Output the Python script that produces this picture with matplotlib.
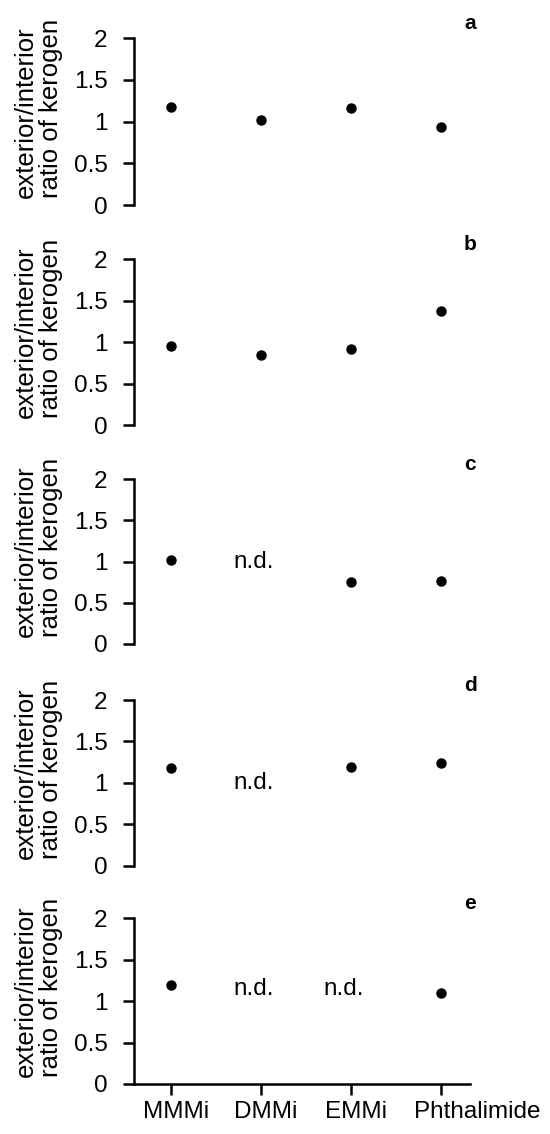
import numpy as np
import matplotlib
matplotlib.use('Agg')
import matplotlib.pyplot as plt
import matplotlib.transforms as mtransforms

plt.rcParams['font.family'] = ['Liberation Sans', 'DejaVu Sans']

compounds = ['MMMi', 'DMMi', 'EMMi', 'Phthalimide']
panel_letters = ['a', 'b', 'c', 'd', 'e']
nan = np.nan

# exterior/interior ratio per panel (nan = not detected)
ratio_a = [1.17, 1.02, 1.16, 0.94]
ratio_b = [0.95, 0.84, 0.92, 1.38]
ratio_c = [1.02, nan, 0.75, 0.77]
ratio_d = [1.18, nan, 1.19, 1.24]
ratio_e = [1.19, nan, nan, 1.10]
ratios = [ratio_a, ratio_b, ratio_c, ratio_d, ratio_e]

# height at which the "n.d." note is written in each panel
nd_height = [1.0, 1.0, 1.0, 1.0, 1.15]

yticks = [0, 0.5, 1, 1.5, 2]
ytick_labels = ['0', '0.5', '1', '1.5', '2']

W, H = 550, 1134
fig = plt.figure(figsize=(W / 100, H / 100), dpi=100)

# panel top / bottom in pixels
tops = [38.3, 259.3, 479.3, 700, 918.3]
bottoms = [205, 425, 644, 865.7, 1084]
left_px, right_px = 134, 470

x = np.arange(1, len(compounds) + 1)
fs = 17.5

for i, (vals, letter) in enumerate(zip(ratios, panel_letters)):
    ax = fig.add_axes([left_px / W, 1 - bottoms[i] / H,
                       (right_px - left_px) / W, (bottoms[i] - tops[i]) / H])
    ax.plot(x, vals, 'o', color='black', markersize=6.5, clip_on=False)
    for j, v in enumerate(vals):
        if np.isnan(v):
            ax.text(x[j] - 0.08, nd_height[i], 'n.d.', ha='center', va='center',
                    fontsize=fs)
    ax.set_xlim(1 - 37 / 90, 1 - 37 / 90 + (right_px - left_px) / 90)
    ax.set_ylim(0, 2)
    ax.set_yticks(yticks)
    ax.set_yticklabels(ytick_labels, fontsize=fs)
    ax.tick_params(axis='y', direction='out', length=8, width=1.8, pad=11)
    for s in ['top', 'right']:
        ax.spines[s].set_visible(False)
    ax.spines['left'].set_linewidth(1.8)
    ax.patch.set_alpha(0)

    if i == len(ratios) - 1:
        ax.spines['bottom'].set_linewidth(1.8)
        ax.set_xticks(x)
        ax.set_xticklabels(compounds, fontsize=fs)
        ax.tick_params(axis='x', direction='out', length=8, width=1.8, pad=4)
        shifts = [5, 5, 5, 36]
        for lab, sh in zip(ax.get_xticklabels(), shifts):
            lab.set_transform(lab.get_transform() +
                              mtransforms.ScaledTranslation(sh / 100, 0, fig.dpi_scale_trans))
    else:
        ax.spines['bottom'].set_visible(False)
        ax.set_xticks([])

    ax.text(1.0, 1.03, letter, transform=ax.transAxes, ha='center', va='bottom',
            fontsize=15, fontweight='bold')
    ax.text(-0.285, 0.04, 'exterior/interior\nratio of kerogen', transform=ax.transAxes,
            rotation=90, ha='center', va='bottom', multialignment='left',
            fontsize=18.5, linespacing=1.05)

fig.savefig('out.png', dpi=100, facecolor='white')
